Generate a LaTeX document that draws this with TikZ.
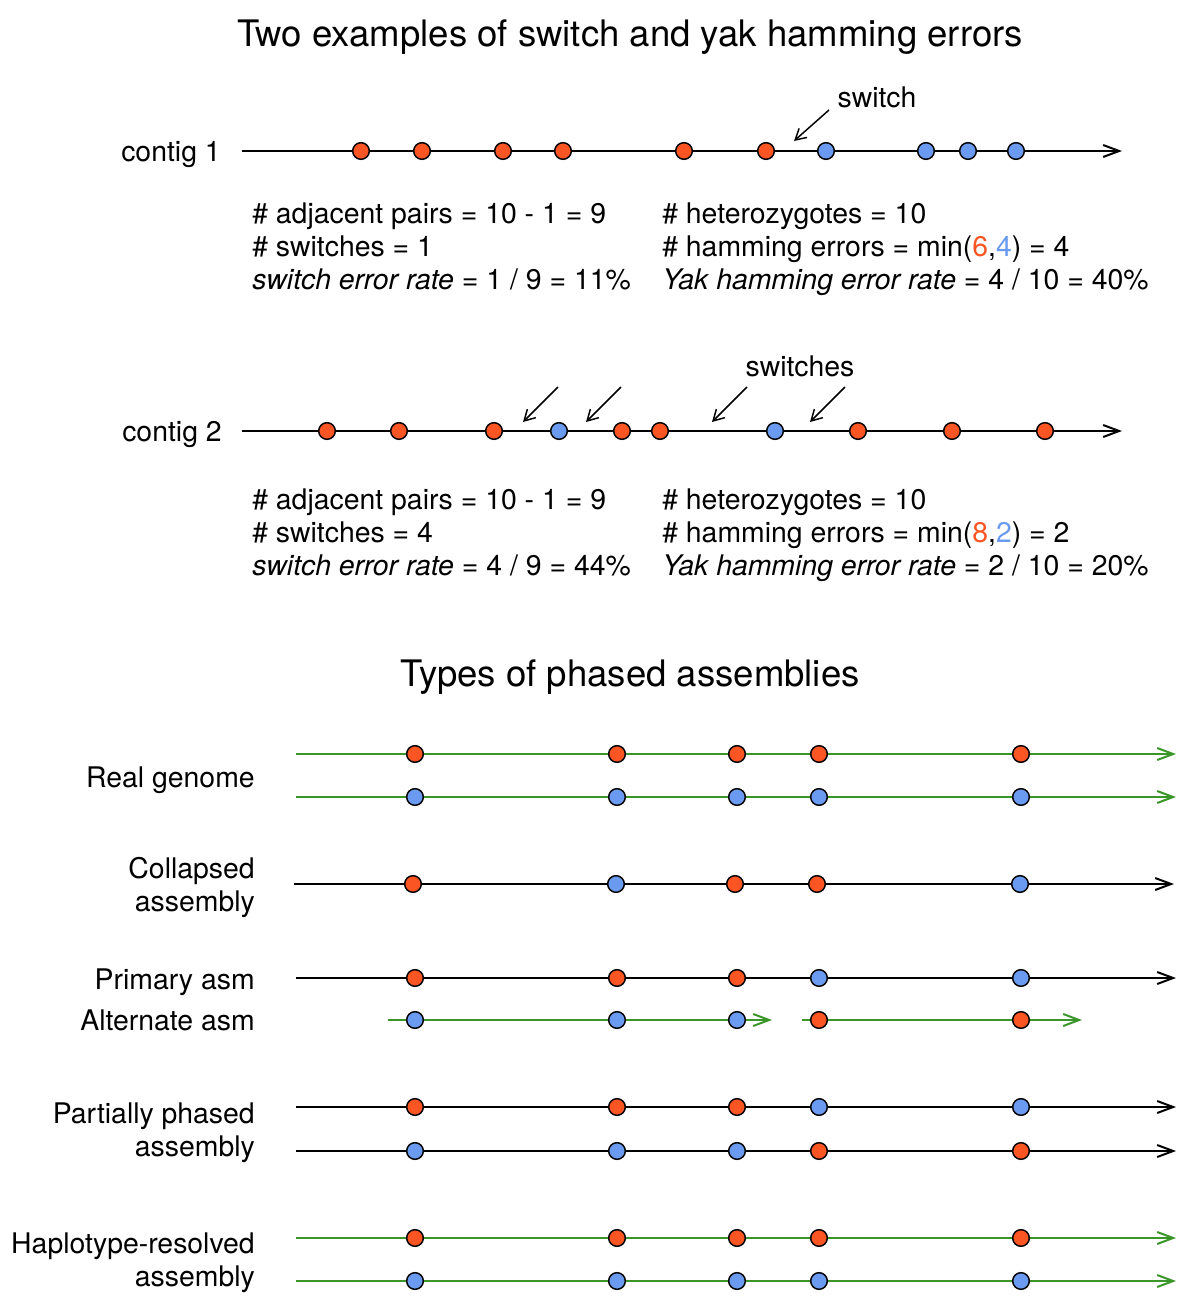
\documentclass[tikz,border=0pt]{standalone}
\usepackage{fontspec}
\setmainfont{TeX Gyre Heros}
\usetikzlibrary{arrows.meta}
\definecolor{orr}{HTML}{FA5523}
\definecolor{bll}{HTML}{6A9BF0}
\definecolor{grn}{HTML}{3A9628}
\newcommand{\bodyfont}{\fontsize{21.3}{24.75}\selectfont}
\begin{document}
\begin{tikzpicture}[x=0.75pt,y=-0.75pt,
  dotbase/.style={circle,draw=black,line width=1.1pt,minimum size=12.5pt,inner sep=0pt},
  ro/.style={dotbase,fill=orr},
  bo/.style={dotbase,fill=bll},
  seqline/.style={line width=1.5pt,-{Straight Barb[length=12pt,width=9pt]}},
  greenline/.style={seqline,draw=grn},
  pointer/.style={line width=1.1pt,-{Straight Barb[length=8pt,width=9pt]}},
  txt/.style={font=\bodyfont,inner sep=0pt,anchor=base west},
  lbl/.style={font=\bodyfont,inner sep=0pt,anchor=base east},
  ttl/.style={font=\fontsize{27.4}{32}\selectfont,inner sep=0pt,anchor=base}]
\useasboundingbox (0,0) rectangle (1180,1304);

% titles
\node[ttl] (t1) at (630,46) {Two examples of switch and yak hamming errors};
\node[ttl] (t2) at (630,686) {Types of phased assemblies};

% ---------- contig 1 ----------
\node[lbl] (lc1) at (221,161) {contig 1};
\coordinate (c1s) at (242,151);
\coordinate (c1e) at (1122,151);
\draw[seqline] (c1s) -- (c1e);
\foreach \x [count=\i] in {361,422,503,563,684,766}
  \node[ro] (c1o\i) at (\x,151) {};
\foreach \x [count=\i] in {826,926,968,1016}
  \node[bo] (c1b\i) at (\x,151) {};
\node[txt,anchor=base] (sw1) at (877,107) {switch};
\coordinate (p1a) at (829,110);
\coordinate (p1b) at (794,141);
\draw[pointer] (p1a) -- (p1b);

\node[txt] (a1) at (252,223) {\# adjacent pairs = 10 - 1 = 9};
\node[txt] (a2) at (252,256) {\# switches = 1};
\node[txt] (a3) at (252,289) {\textit{switch error rate} = 1 / 9 = 11\%};
\node[txt] (b1) at (662,223) {\# heterozygotes = 10};
\node[txt] (b2) at (662,256) {\# hamming errors = min(\textcolor{orr}{6},\textcolor{bll}{4}) = 4};
\node[txt] (b3) at (662,289) {\textit{Yak hamming error rate} = 4 / 10 = 40\%};

% ---------- contig 2 ----------
\node[lbl] (lc2) at (222,441) {contig 2};
\coordinate (c2s) at (242,431);
\coordinate (c2e) at (1122,431);
\draw[seqline] (c2s) -- (c2e);
\foreach \x [count=\i] in {327,399,494,622,660,858,952,1045}
  \node[ro] (c2o\i) at (\x,431) {};
\foreach \x [count=\i] in {559,775}
  \node[bo] (c2b\i) at (\x,431) {};
\node[txt,anchor=base] (sw2) at (800,376) {switches};
\foreach \x [count=\i] in {558,621,747,845}{
  \coordinate (q\i a) at (\x,387);
  \coordinate (q\i b) at (\x-35,422);
  \draw[pointer] (q\i a) -- (q\i b);
}

\node[txt] (d1) at (252,509) {\# adjacent pairs = 10 - 1 = 9};
\node[txt] (d2) at (252,542) {\# switches = 4};
\node[txt] (d3) at (252,575) {\textit{switch error rate} = 4 / 9 = 44\%};
\node[txt] (e1) at (662,509) {\# heterozygotes = 10};
\node[txt] (e2) at (662,542) {\# hamming errors = min(\textcolor{orr}{8},\textcolor{bll}{2}) = 2};
\node[txt] (e3) at (662,575) {\textit{Yak hamming error rate} = 2 / 10 = 20\%};

% ---------- Real genome ----------
\node[lbl] (lrg) at (255,787) {Real genome};
\coordinate (rg1s) at (296,754); \coordinate (rg1e) at (1176,754);
\coordinate (rg2s) at (296,797); \coordinate (rg2e) at (1176,797);
\draw[greenline] (rg1s) -- (rg1e);
\draw[greenline] (rg2s) -- (rg2e);
\foreach \x [count=\i] in {415,617,737,819,1021}{
  \node[ro] (rgo\i) at (\x,754) {};
  \node[bo] (rgb\i) at (\x,797) {};
}

% ---------- Collapsed ----------
\node[lbl] (lca1) at (255,878) {Collapsed};
\node[lbl] (lca2) at (255,911) {assembly};
\coordinate (cas) at (294,884); \coordinate (cae) at (1174,884);
\draw[seqline] (cas) -- (cae);
\node[ro] (ca1) at (413,884) {};
\node[bo] (ca2) at (616,884) {};
\node[ro] (ca3) at (735,884) {};
\node[ro] (ca4) at (817,884) {};
\node[bo] (ca5) at (1020,884) {};

% ---------- Primary / Alternate ----------
\node[lbl] (lpa) at (255,989) {Primary asm};
\node[lbl] (lal) at (255,1030) {Alternate asm};
\coordinate (pas) at (296,978); \coordinate (pae) at (1176,978);
\draw[seqline] (pas) -- (pae);
\node[ro] (pa1) at (415,978) {};
\node[ro] (pa2) at (617,978) {};
\node[ro] (pa3) at (737,978) {};
\node[bo] (pa4) at (819,978) {};
\node[bo] (pa5) at (1021,978) {};
\coordinate (al1s) at (388,1020); \coordinate (al1e) at (772,1020);
\coordinate (al2s) at (802,1020); \coordinate (al2e) at (1082,1020);
\draw[greenline] (al1s) -- (al1e);
\draw[greenline] (al2s) -- (al2e);
\node[bo] (al1) at (415,1020) {};
\node[bo] (al2) at (617,1020) {};
\node[bo] (al3) at (737,1020) {};
\node[ro] (al4) at (819,1020) {};
\node[ro] (al5) at (1021,1020) {};

% ---------- Partially phased ----------
\node[lbl] (lpp1) at (255,1123) {Partially phased};
\node[lbl] (lpp2) at (255,1156) {assembly};
\coordinate (pp1s) at (296,1107); \coordinate (pp1e) at (1176,1107);
\coordinate (pp2s) at (296,1151); \coordinate (pp2e) at (1176,1151);
\draw[seqline] (pp1s) -- (pp1e);
\draw[seqline] (pp2s) -- (pp2e);
\foreach \x [count=\i] in {415,617,737}{
  \node[ro] (ppa\i) at (\x,1107) {};
  \node[bo] (ppb\i) at (\x,1151) {};
}
\foreach \x [count=\i] in {819,1021}{
  \node[bo] (ppc\i) at (\x,1107) {};
  \node[ro] (ppd\i) at (\x,1151) {};
}

% ---------- Haplotype-resolved ----------
\node[lbl] (lhr1) at (255,1253) {Haplotype-resolved};
\node[lbl] (lhr2) at (255,1286) {assembly};
\coordinate (hr1s) at (296,1238); \coordinate (hr1e) at (1176,1238);
\coordinate (hr2s) at (296,1281); \coordinate (hr2e) at (1176,1281);
\draw[greenline] (hr1s) -- (hr1e);
\draw[greenline] (hr2s) -- (hr2e);
\foreach \x [count=\i] in {415,617,737,819,1021}{
  \node[ro] (hro\i) at (\x,1238) {};
  \node[bo] (hrb\i) at (\x,1281) {};
}
\end{tikzpicture}
\end{document}
